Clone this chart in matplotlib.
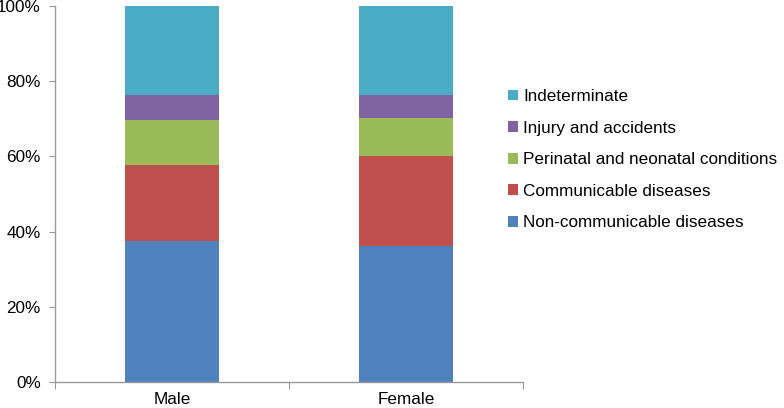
import matplotlib
matplotlib.use("Agg")
import matplotlib.pyplot as plt
from matplotlib.patches import Patch
import numpy as np

plt.rcParams['font.family'] = ['Liberation Sans', 'DejaVu Sans']

categories = ["Male", "Female"]
series_names = ["Non-communicable diseases", "Communicable diseases",
                "Perinatal and neonatal conditions", "Injury and accidents",
                "Indeterminate"]
non_communicable = [37.6, 36.3]
communicable = [20.2, 23.7]
perinatal = [12.0, 10.1]
injury = [6.4, 6.1]
indeterminate = [23.8, 23.8]
y_ticks = [0, 20, 40, 60, 80, 100]
y_tick_labels = ["0%", "20%", "40%", "60%", "80%", "100%"]

colors = ["#4F81BD", "#C0504D", "#9BBB59", "#8064A2", "#4BACC6"]
series = [non_communicable, communicable, perinatal, injury, indeterminate]

FS = 12.3

fig = plt.figure(figsize=(7.84, 4.08), dpi=100)
ax = fig.add_axes([55/784, 1 - 382/408, (523-55)/784, (382-6)/408])

x = np.arange(len(categories)) + 0.5
bottom = np.zeros(len(categories))
for vals, col, name in zip(series, colors, series_names):
    ax.bar(x, vals, width=0.4, bottom=bottom, color=col, label=name, zorder=2)
    bottom += np.array(vals)

ax.set_xlim(0, 2)
ax.set_ylim(0, 100)
ax.set_yticks(y_ticks)
ax.set_yticklabels(y_tick_labels)
ax.set_xticks([0, 1, 2])
ax.set_xticklabels([])
ax.set_xticks(x, minor=True)
ax.set_xticklabels(categories, minor=True)
ax.tick_params(axis='x', which='minor', length=0, labelsize=FS, pad=7)
ax.tick_params(axis='x', which='major', length=5, color='#999999', direction='out')
ax.tick_params(axis='y', length=4.3, color='#999999', labelsize=FS, pad=6)
for s in ['top', 'right']:
    ax.spines[s].set_visible(False)
for s in ['left', 'bottom']:
    ax.spines[s].set_color('#999999')
    ax.spines[s].set_linewidth(1.0)

handles = [Patch(facecolor=c, edgecolor='none') for c in colors][::-1]
labels = series_names[::-1]
fig.legend(handles, labels, loc='upper left', bbox_to_anchor=(508/784, 1 - 89/408),
           frameon=False, fontsize=FS, handlelength=0.6, handleheight=0.6,
           handletextpad=0.3, labelspacing=0.97, borderpad=0, borderaxespad=0)

fig.savefig("out.png", dpi=100)
